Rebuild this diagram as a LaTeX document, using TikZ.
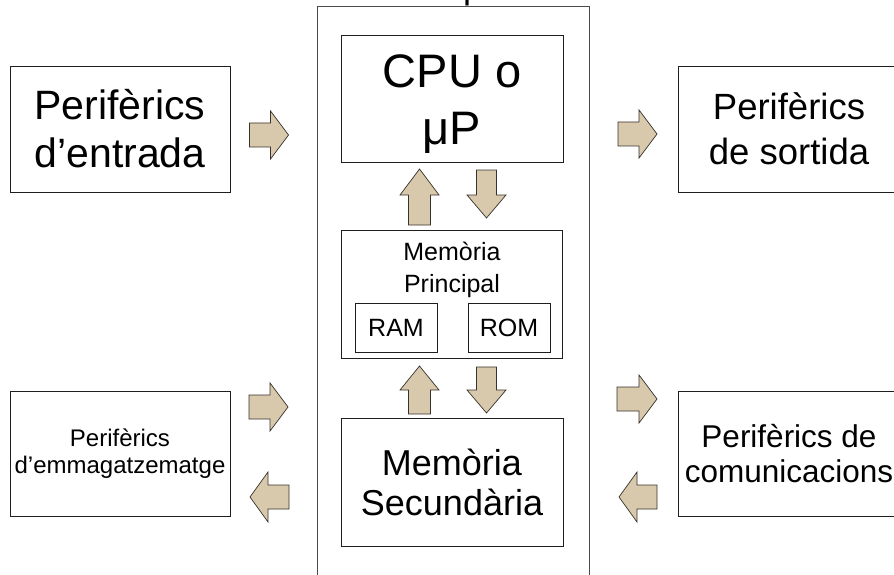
\documentclass[tikz,border=0pt]{standalone}
\usepackage{fontspec}
\setmainfont{Liberation Sans}
\definecolor{arrowfill}{RGB}{216,201,172}
\definecolor{arrowline}{RGB}{55,50,45}
\definecolor{boxline}{RGB}{30,30,30}
\newcommand{\blockarrow}[8]{% name, cx, cy, angle, L, W, B, H
  \begin{scope}[shift={(#2,#3)}, rotate=#4]
    \draw[barrow] (-#5/2,-#7/2) -- (#5/2-#8,-#7/2) -- (#5/2-#8,-#6/2) -- (#5/2,0)
      -- (#5/2-#8,#6/2) -- (#5/2-#8,#7/2) -- (-#5/2,#7/2) -- cycle;
    \coordinate (#1) at (0,0);
  \end{scope}}
\tikzset{
  box/.style={draw=boxline, line width=0.9pt, rectangle, inner sep=0pt, align=center},
  barrow/.style={draw=arrowline, line width=0.7pt, fill=arrowfill, line join=miter},
}
\begin{document}
\begin{tikzpicture}[x=1pt,y=-1pt]
\useasboundingbox (0,0) rectangle (894,575);
\clip (0,0) rectangle (894,575);
\fill[white] (0,0) rectangle (894,575);
% fragment of a title cut off at the top
\node[anchor=base west, inner sep=0pt, font=\fontsize{36}{40}\selectfont] (title) at (463,-1.5) {p};
% outer frame
\draw[draw=boxline!80, line width=0.9pt] (317,600) -- (317,6) -- (589,6) -- (589,600);
% central boxes
\node[box, minimum width=222, minimum height=127] (cpu) at (452,98.5) {};
\node[inner sep=0pt, align=center, font=\fontsize{47}{57}\selectfont] (cputxt) at (452,104) {CPU o\\μP};
\node[box, minimum width=221, minimum height=128] (mp) at (452,294) {};
\node[inner sep=0pt, align=center, font=\fontsize{25}{32}\selectfont] (mptxt) at (452,270) {Memòria\\Principal};
\node[box, minimum width=82, minimum height=49, font=\fontsize{25}{30}\selectfont] (ram) at (396,327.5) {RAM};
\node[box, minimum width=82, minimum height=49, font=\fontsize{25}{30}\selectfont] (rom) at (509,327.5) {ROM};
\node[box, minimum width=222, minimum height=128, font=\fontsize{36}{40}\selectfont] (ms) at (452,482) {Memòria\\Secundària};
% peripherals
\node[box, minimum width=220, minimum height=126, font=\fontsize{41}{48}\selectfont] (in) at (120,129) {Perifèrics\\d’entrada};
\node[box, minimum width=220, minimum height=125, font=\fontsize{24}{27}\selectfont] (st) at (120,453.5) {Perifèrics\\d’emmagatzematge};
\node[box, minimum width=222, minimum height=126, font=\fontsize{36.5}{45}\selectfont] (out) at (789,129) {Perifèrics\\de sortida};
\node[box, minimum width=222, minimum height=125, font=\fontsize{31.5}{35}\selectfont] (com) at (789,453.5) {Perifèrics de\\comunicacions};
% block arrows
\blockarrow{a1}{269}{135}{0}{39}{48}{24}{18}
\blockarrow{a2}{637.5}{134}{0}{39}{48}{24}{18}
\blockarrow{a3}{419.5}{197}{90}{56}{39}{22}{26}
\blockarrow{a4}{486.5}{194}{-90}{48}{39}{20}{23}
\blockarrow{a5}{419.5}{390}{90}{48}{39}{22}{24}
\blockarrow{a6}{486.5}{390}{-90}{46}{39}{20}{23}
\blockarrow{a7}{268.5}{407}{0}{39}{48}{24}{18}
\blockarrow{a8}{269.5}{497}{180}{39}{50}{24}{18}
\blockarrow{a9}{637}{399}{0}{40}{48}{24}{18}
\blockarrow{a10}{638}{497}{180}{38}{50}{24}{18}
\end{tikzpicture}
\end{document}
